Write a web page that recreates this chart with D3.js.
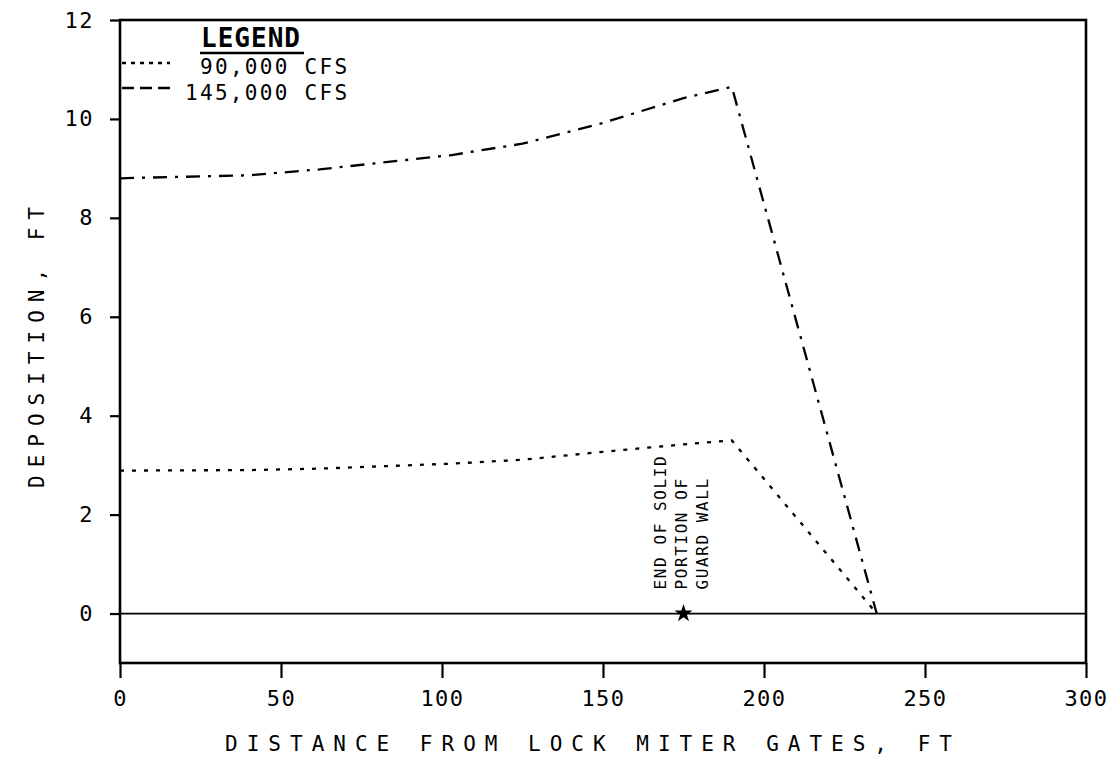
<!DOCTYPE html>
<html>
<head>
<meta charset="utf-8">
<script src="https://cdn.jsdelivr.net/npm/d3@7"></script>
<style>
  body { margin: 0; background: #fff; }
  svg text { font-family: "DejaVu Sans Mono", monospace; fill: #000; }
</style>
</head>
<body>
<div id="chart-container"></div>
<script>
// distance from lock miter gates (ft) and deposition (ft)
const distance = [0, 40, 62, 103, 125, 150, 175, 190, 235];
const dep90k = [2.89, 2.9, 2.93, 3.03, 3.11, 3.27, 3.42, 3.5, 0];
const dep145k = [8.8, 8.86, 8.98, 9.27, 9.5, 9.92, 10.42, 10.65, 0];
const seriesNames = ["90,000 CFS", "145,000 CFS"];
const xTicks = [0, 50, 100, 150, 200, 250, 300];
const yTicks = [0, 2, 4, 6, 8, 10, 12];
const wallEnd = 175;
const wallNote = ["END OF SOLID", "PORTION OF", "GUARD WALL"];

const margin = { top: 20, right: 28, bottom: 104, left: 120 };
const width = 1114 - margin.left - margin.right;
const height = 767 - margin.top - margin.bottom;

const x = d3.scaleLinear().domain([0, 300]).range([0, width]);
const y = d3.scaleLinear().domain([-1, 12]).range([height, 0]);

const svg = d3.select("#chart-container")
  .append("svg")
  .attr("width", width + margin.left + margin.right)
  .attr("height", height + margin.top + margin.bottom)
  .append("g")
  .attr("transform", `translate(${margin.left},${margin.top})`);

// frame
svg.append("rect")
  .attr("width", width)
  .attr("height", height)
  .attr("fill", "none")
  .attr("stroke", "#000")
  .attr("stroke-width", 2.6);

// zero line
svg.append("line")
  .attr("x1", 0).attr("x2", width)
  .attr("y1", y(0)).attr("y2", y(0))
  .attr("stroke", "#000")
  .attr("stroke-width", 1.7);

svg.append("g")
  .attr("transform", `translate(0,${height})`)
  .style("font-size", "22px")
  .call(d3.axisBottom(x).tickValues(xTicks).tickSize(15).tickPadding(12).tickSizeOuter(0))
  .call(g => g.select(".domain").remove())
  .call(g => g.selectAll(".tick line").attr("stroke-width", 2.2))
  .call(g => g.selectAll(".tick text").attr("font-family", "DejaVu Sans Mono").attr("letter-spacing", "1.5px"));

svg.append("g")
  .style("font-size", "22px")
  .call(d3.axisLeft(y).tickValues(yTicks).tickSize(10).tickPadding(16).tickSizeOuter(0))
  .call(g => g.select(".domain").remove())
  .call(g => g.selectAll(".tick line").attr("stroke-width", 2.2))
  .call(g => g.selectAll(".tick text").attr("font-family", "DejaVu Sans Mono").attr("letter-spacing", "1.5px"));

// axis titles
svg.append("text")
  .attr("x", width / 2 - 10)
  .attr("y", height + 88)
  .attr("text-anchor", "middle")
  .style("font-size", "21px")
  .attr("letter-spacing", "9px")
  .text("DISTANCE FROM LOCK MITER GATES, FT");

svg.append("text")
  .attr("transform", `translate(${-76},${height / 2 + 2}) rotate(-90)`)
  .attr("text-anchor", "middle")
  .style("font-size", "21px")
  .attr("letter-spacing", "8px")
  .text("DEPOSITION, FT");

const line = d3.line()
  .x(d => x(d[0]))
  .y(d => y(d[1]));

const series = [
  { name: seriesNames[0], values: d3.zip(distance, dep90k), dash: "4,8", legendDash: "4,5" },
  { name: seriesNames[1], values: d3.zip(distance, dep145k), dash: "14,8,3,8", legendDash: "12,6" }
];

svg.selectAll(".series")
  .data(series)
  .join("path")
  .attr("class", "series")
  .attr("fill", "none")
  .attr("stroke", "#000")
  .attr("stroke-width", 2.3)
  .attr("stroke-dasharray", d => d.dash)
  .attr("d", d => line(d.values));

// end of guard wall marker
svg.append("path")
  .attr("d", d3.symbol(d3.symbolStar, 100)())
  .attr("transform", `translate(${x(wallEnd)},${y(0)})`)
  .attr("fill", "#000");

svg.append("g")
  .attr("transform", `translate(${x(wallEnd)},${y(0) - 24}) rotate(-90)`)
  .selectAll("text")
  .data(wallNote)
  .join("text")
  .attr("x", 0)
  .attr("y", (d, i) => -18 + i * 21)
  .style("font-size", "16px")
  .attr("letter-spacing", "1.6px")
  .text(d => d);

// legend
const legend = svg.append("g");
legend.append("text")
  .attr("x", 131)
  .attr("y", 27)
  .attr("text-anchor", "middle")
  .style("font-size", "26px")
  .style("font-weight", "bold")
  .attr("letter-spacing", "1px")
  .text("LEGEND");
legend.append("line")
  .attr("x1", 80).attr("x2", 184)
  .attr("y1", 33).attr("y2", 33)
  .attr("stroke", "#000").attr("stroke-width", 2.4);

legend.selectAll(".legend-line")
  .data(series)
  .join("line")
  .attr("class", "legend-line")
  .attr("x1", 2).attr("x2", 50)
  .attr("y1", (d, i) => 43 + i * 25)
  .attr("y2", (d, i) => 43 + i * 25)
  .attr("stroke", "#000")
  .attr("stroke-width", 2.3)
  .attr("stroke-dasharray", d => d.legendDash);

legend.selectAll(".legend-text")
  .data(series)
  .join("text")
  .attr("class", "legend-text")
  .attr("x", (d, i) => i === 0 ? 80 : 65)
  .attr("y", (d, i) => 54 + i * 26)
  .style("font-size", "21px")
  .attr("letter-spacing", "2.3px")
  .text(d => d.name);
</script>
</body>
</html>
